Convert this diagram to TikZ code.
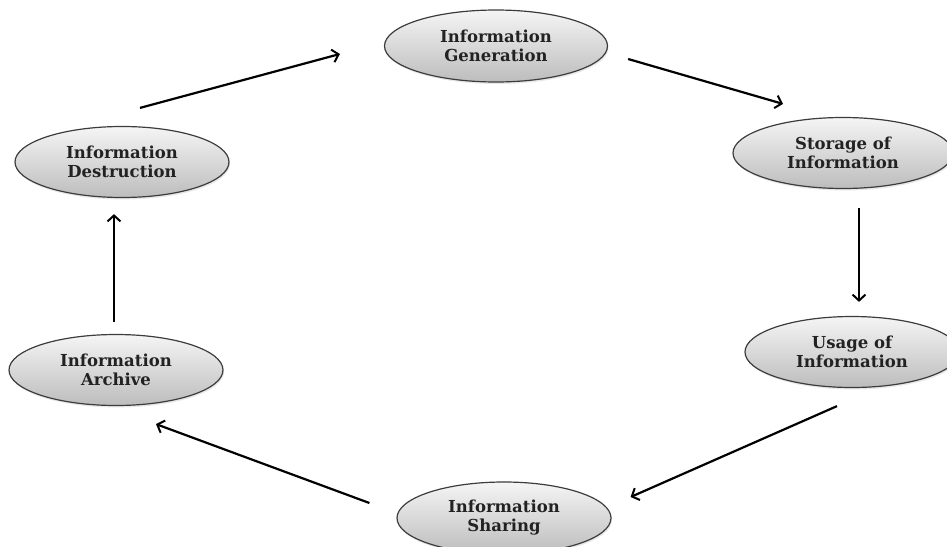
\documentclass[tikz,border=0pt]{standalone}
\usepackage{fontspec}
\setmainfont{DejaVu Serif}
\usetikzlibrary{shapes.geometric,arrows.meta,shadows}
\definecolor{rimgray}{HTML}{3C3C3C}
\definecolor{inkgray}{HTML}{222222}
\begin{document}
\begin{tikzpicture}[x=1pt, y=-1pt,
    stage/.style = {ellipse, draw=rimgray, line width=1.2pt, top color=black!4, bottom color=black!26,
        minimum width=214pt, minimum height=71pt, inner sep=0pt, align=center, text=inkgray,
        font=\bfseries\fontsize{16.5}{19}\selectfont,
        drop shadow={opacity=0.18, shadow xshift=1pt, shadow yshift=-2pt}},
    flow/.style = {line width=2.2pt, -{Straight Barb[length=6pt,width=13pt,line width=2pt]}}]
    \useasboundingbox (0,0) rectangle (947,546);
    \node[stage, minimum width=223pt, minimum height=72pt] (gen) at (496,46) {Information\\Generation};
    \node[stage, minimum width=220pt] (stor) at (843,153) {Storage of\\Information};
    \node[stage] (use) at (852,352) {Usage of\\Information};
    \node[stage, minimum height=72pt] (share) at (504,518) {Information\\Sharing};
    \node[stage] (arch) at (116,370) {Information\\Archive};
    \node[stage] (dest) at (122,162) {Information\\Destruction};
    \draw[flow] ([xshift=18pt,yshift=18pt]dest.north) -- ([xshift=-44pt,yshift=-8pt]gen.west);
    \draw[flow] ([xshift=20pt,yshift=-13pt]gen.east) -- ([xshift=-60pt,yshift=13pt]stor.north);
    \draw[flow] ([xshift=16pt,yshift=-19pt]stor.south) -- ([xshift=7pt,yshift=14pt]use.north);
    \draw[flow] ([xshift=-15pt,yshift=-18pt]use.south) -- ([xshift=19pt,yshift=21pt]share.east);
    \draw[flow] ([xshift=-27pt,yshift=15pt]share.west) -- ([xshift=40pt,yshift=-18pt]arch.south);
    \draw[flow] ([xshift=-2pt,yshift=12pt]arch.north) -- ([xshift=-8pt,yshift=-16pt]dest.south);
\end{tikzpicture}
\end{document}
